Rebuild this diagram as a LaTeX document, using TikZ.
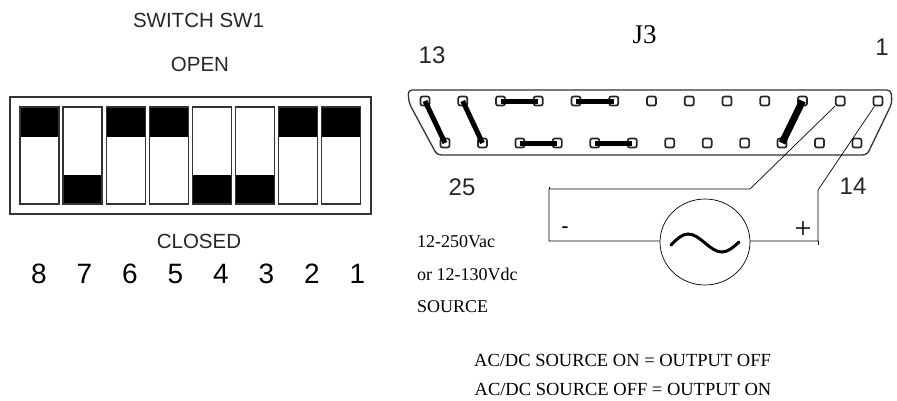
\documentclass[tikz,border=0pt]{standalone}
\usepackage{fontspec}
\setmainfont{Liberation Serif}
\newfontfamily\sansf{Liberation Sans}
\usetikzlibrary{shapes.geometric}
\begin{document}
\begin{tikzpicture}[x=1pt,y=-1pt,
  outline/.style={draw=black!80,line width=1.3pt},
  slotbox/.style={draw=black!80,line width=1.3pt},
  pinbox/.style={draw=black!85,line width=1.7pt,fill=white,minimum size=9pt,inner sep=0,rounded corners=2pt},
  jumper/.style={line width=5pt,black},
  wire/.style={line width=0.7pt,black},
  sanslbl/.style={font=\sansf\fontsize{20.5}{24}\selectfont,text=black!85,inner sep=0,anchor=base},
  digit/.style={font=\sansf\fontsize{28}{30}\selectfont,inner sep=0,anchor=base},
  pinnum/.style={font=\sansf\fontsize{24}{26}\selectfont,text=black!85,inner sep=0,anchor=base},
  seriflbl/.style={font=\fontsize{18}{20}\selectfont,inner sep=0,anchor=base west},
  notelbl/.style={font=\fontsize{18.5}{20}\selectfont,inner sep=0,anchor=base}]
\useasboundingbox (0,0) rectangle (897,400);

% ---- switch SW1 ----
\node[sanslbl] (swtitle) at (198.5,27) {SWITCH SW1};
\node[sanslbl] (open) at (200,71) {OPEN};
\node[sanslbl] (closed) at (199,248) {CLOSED};
\draw[outline] (10,97) rectangle (371,214);
\foreach \i/\up in {0/1,1/0,2/1,3/1,4/0,5/0,6/1,7/1}{
  \pgfmathsetmacro\xa{20+43.1*\i}
  \pgfmathsetmacro\xb{\xa+39}
  \ifnum\up=1
    \fill (\xa,107) rectangle (\xb,137);
  \else
    \fill (\xa,175) rectangle (\xb,204);
  \fi
  \draw[slotbox] (\xa,107) rectangle (\xb,204);
}
\foreach \d [count=\k from 0] in {8,7,6,5,4,3,2,1}{
  \node[digit] (dig\d) at (39+45.5*\k,283) {\d};
}

% ---- connector J3 ----
\node[font=\fontsize{27}{30}\selectfont,inner sep=0,anchor=base] (j3) at (644.5,43) {J3};
\node[pinnum] (n13) at (432,63) {13};
\node[pinnum] (n1) at (882,55) {1};
\node[pinnum] (n25) at (462,195) {25};
\node[pinnum] (n14) at (853,194) {14};

\draw[outline,rounded corners=4pt] (650,90) -- (891,90) -- (892,103) -- (867,155) -- (437,155) -- (409,103) -- (408,90) -- cycle;

% wires (drawn before pins)
\coordinate (k1) at (750,189);
\coordinate (k2) at (549,189);
\coordinate (k3) at (549,241);
\coordinate (k4) at (818,241);
\coordinate (k5) at (818,190);
\node[draw,ellipse,line width=0.7pt,minimum width=90pt,minimum height=86pt,inner sep=0] (src) at (705,242) {};

\foreach \k in {0,...,12}{
  \pgfmathtruncatemacro\n{13-\k}
  \node[pinbox] (t\n) at (425+37.75*\k,101) {};
}
\foreach \k in {0,...,11}{
  \pgfmathtruncatemacro\n{25-\k}
  \node[pinbox] (b\n) at (445+37.45*\k,143) {};
}

\draw[wire] (t2) -- (k1) -- (k2) -- (k3) -- (src.west |- k3);
\draw[wire] (src.east |- k4) -- (k4) -- (k5) -- (t1);
\draw[wire] (549,186.5) -- (k2);
\draw[wire] (k4) -- (818,245);

% jumpers
\draw[jumper] (t13.center) -- (b25.center);
\draw[jumper] (t12.center) -- (b24.center);
\draw[jumper] (t11.center) -- (t10.center);
\draw[jumper] (t9.center) -- (t8.center);
\draw[jumper] (b23.center) -- (b22.center);
\draw[jumper] (b21.center) -- (b20.center);
\draw[line width=7pt,black] (t3.center) -- (b16.center);

% source symbol
\draw[line width=3pt,line cap=round] (671,245) sin (688,234) cos (705,243) sin (722,252) cos (739,242);
\node[font=\sansf\fontsize{22}{24}\selectfont,inner sep=0] (minus) at (565,230) {-};
\node[font=\fontsize{30}{32}\selectfont,inner sep=0] (plus) at (803,230) {+};

% texts
\node[seriflbl] (v1) at (417,247) {12-250Vac};
\node[seriflbl] (v2) at (417,280) {or 12-130Vdc};
\node[seriflbl] (v3) at (417,312) {SOURCE};
\node[notelbl] (note1) at (622.5,366) {AC/DC SOURCE ON = OUTPUT OFF};
\node[notelbl] (note2) at (623,395.5) {AC/DC SOURCE OFF = OUTPUT ON};
\end{tikzpicture}
\end{document}
